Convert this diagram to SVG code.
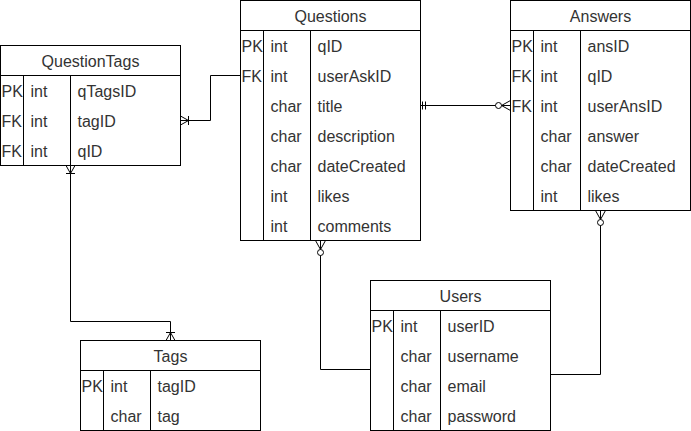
<svg xmlns="http://www.w3.org/2000/svg" width="691" height="431" viewBox="0 0 691 431">
<style>
.box{fill:#fff;stroke:#000;stroke-width:1}
.ln{fill:none;stroke:#000;stroke-width:1}
.t{font-family:"Liberation Sans",Arial,sans-serif;font-size:16px;fill:#333}
.h{text-anchor:middle}
.c{fill:none;stroke:#000;stroke-width:1}
</style>
<defs>
<marker id="manyOne" markerUnits="userSpaceOnUse" markerWidth="30" markerHeight="30" viewBox="-15 -15 30 30" refX="0" refY="0" orient="auto-start-reverse" overflow="visible">
<path d="M-8,0 L0,-4.5 M-8,0 L0,4.5 M-8,-4.5 V4.5" fill="none" stroke="#000" stroke-width="1"/>
</marker>
<marker id="zeroMany" markerUnits="userSpaceOnUse" markerWidth="30" markerHeight="30" viewBox="-15 -15 30 30" refX="0" refY="0" orient="auto-start-reverse" overflow="visible">
<path d="M-9,0 L0,-5 M-9,0 L0,5" fill="none" stroke="#000" stroke-width="1"/>
<circle cx="-12" cy="0" r="3" fill="#fff" stroke="#000" stroke-width="1"/>
</marker>
<marker id="mandOne" markerUnits="userSpaceOnUse" markerWidth="30" markerHeight="30" viewBox="-15 -15 30 30" refX="0" refY="0" orient="auto-start-reverse" overflow="visible">
<path d="M-2,-4 V4 M-5,-4 V4" fill="none" stroke="#000" stroke-width="1"/>
</marker>
</defs>

<g id="connectors">
<path class="c" d="M240.5,75.5 H210.5 V120.5 H180.5" marker-end="url(#manyOne)"/>
<path class="c" d="M420.5,105.5 H510.5" marker-start="url(#mandOne)" marker-end="url(#zeroMany)"/>
<path class="c" d="M320.5,240.5 V369.5 H370.5" marker-start="url(#zeroMany)"/>
<path class="c" d="M600.5,210.5 V374.5 H550.5" marker-start="url(#zeroMany)"/>
<path class="c" d="M70.5,165.5 V321.5 H170.5 V340.5" marker-start="url(#manyOne)" marker-end="url(#manyOne)"/>
</g>

<g id="QuestionTags">
<rect class="box" x="0.5" y="45.5" width="180" height="120"/>
<path class="ln" d="M0.5,75.5 H180.5 M23.5,75.5 V165.5 M70.5,75.5 V165.5"/>
<text class="t h" x="90.5" y="66.5">QuestionTags</text>
<text class="t" x="1.5" y="96.5">PK</text><text class="t" x="30.5" y="96.5">int</text><text class="t" x="77.5" y="96.5">qTagsID</text>
<text class="t" x="1.5" y="126.5">FK</text><text class="t" x="30.5" y="126.5">int</text><text class="t" x="77.5" y="126.5">tagID</text>
<text class="t" x="1.5" y="156.5">FK</text><text class="t" x="30.5" y="156.5">int</text><text class="t" x="77.5" y="156.5">qID</text>
</g>

<g id="Questions">
<rect class="box" x="240.5" y="0.5" width="180" height="240"/>
<path class="ln" d="M240.5,30.5 H420.5 M263.5,30.5 V240.5 M310.5,30.5 V240.5"/>
<text class="t h" x="330.5" y="21.5">Questions</text>
<text class="t" x="241.5" y="51.5">PK</text><text class="t" x="270.5" y="51.5">int</text><text class="t" x="317.5" y="51.5">qID</text>
<text class="t" x="241.5" y="81.5">FK</text><text class="t" x="270.5" y="81.5">int</text><text class="t" x="317.5" y="81.5">userAskID</text>
<text class="t" x="270.5" y="111.5">char</text><text class="t" x="317.5" y="111.5">title</text>
<text class="t" x="270.5" y="141.5">char</text><text class="t" x="317.5" y="141.5">description</text>
<text class="t" x="270.5" y="171.5">char</text><text class="t" x="317.5" y="171.5">dateCreated</text>
<text class="t" x="270.5" y="201.5">int</text><text class="t" x="317.5" y="201.5">likes</text>
<text class="t" x="270.5" y="231.5">int</text><text class="t" x="317.5" y="231.5">comments</text>
</g>

<g id="Answers">
<rect class="box" x="510.5" y="0.5" width="180" height="210"/>
<path class="ln" d="M510.5,30.5 H690.5 M533.5,30.5 V210.5 M580.5,30.5 V210.5"/>
<text class="t h" x="600.5" y="21.5">Answers</text>
<text class="t" x="511.5" y="51.5">PK</text><text class="t" x="540.5" y="51.5">int</text><text class="t" x="587.5" y="51.5">ansID</text>
<text class="t" x="511.5" y="81.5">FK</text><text class="t" x="540.5" y="81.5">int</text><text class="t" x="587.5" y="81.5">qID</text>
<text class="t" x="511.5" y="111.5">FK</text><text class="t" x="540.5" y="111.5">int</text><text class="t" x="587.5" y="111.5">userAnsID</text>
<text class="t" x="540.5" y="141.5">char</text><text class="t" x="587.5" y="141.5">answer</text>
<text class="t" x="540.5" y="171.5">char</text><text class="t" x="587.5" y="171.5">dateCreated</text>
<text class="t" x="540.5" y="201.5">int</text><text class="t" x="587.5" y="201.5">likes</text>
</g>

<g id="Users">
<rect class="box" x="370.5" y="280.5" width="180" height="150"/>
<path class="ln" d="M370.5,310.5 H550.5 M393.5,310.5 V430.5 M440.5,310.5 V430.5"/>
<text class="t h" x="460.5" y="301.5">Users</text>
<text class="t" x="371.5" y="331.5">PK</text><text class="t" x="400.5" y="331.5">int</text><text class="t" x="447.5" y="331.5">userID</text>
<text class="t" x="400.5" y="361.5">char</text><text class="t" x="447.5" y="361.5">username</text>
<text class="t" x="400.5" y="391.5">char</text><text class="t" x="447.5" y="391.5">email</text>
<text class="t" x="400.5" y="421.5">char</text><text class="t" x="447.5" y="421.5">password</text>
</g>

<g id="Tags">
<rect class="box" x="80.5" y="340.5" width="180" height="90"/>
<path class="ln" d="M80.5,370.5 H260.5 M103.5,370.5 V430.5 M150.5,370.5 V430.5"/>
<text class="t h" x="170.5" y="361.5">Tags</text>
<text class="t" x="81.5" y="391.5">PK</text><text class="t" x="110.5" y="391.5">int</text><text class="t" x="157.5" y="391.5">tagID</text>
<text class="t" x="110.5" y="421.5">char</text><text class="t" x="157.5" y="421.5">tag</text>
</g>
</svg>
